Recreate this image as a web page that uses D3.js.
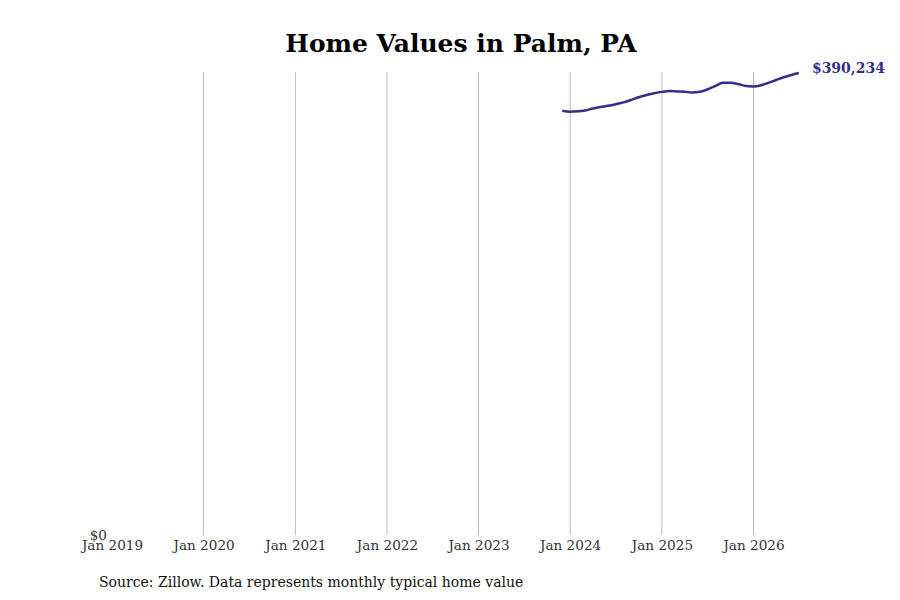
<!DOCTYPE html>
<html>
<head>
<meta charset="utf-8">
<script src="https://cdn.jsdelivr.net/npm/d3@7"></script>
<style>
  body { margin: 0; background: #fff; }
  svg { display: block; font-family: "DejaVu Serif", serif; }
</style>
</head>
<body>
<script>
// monthly typical home value, Dec 2023 .. Jul 2026
var months = [
  "2023-12", "2024-01", "2024-02", "2024-03", "2024-04", "2024-05", "2024-06",
  "2024-07", "2024-08", "2024-09", "2024-10", "2024-11", "2024-12",
  "2025-01", "2025-02", "2025-03", "2025-04", "2025-05", "2025-06",
  "2025-07", "2025-08", "2025-09", "2025-10", "2025-11", "2025-12",
  "2026-01", "2026-02", "2026-03", "2026-04", "2026-05", "2026-06", "2026-07"
];
var values = [
  358400, 357600, 357900, 358600, 360300, 361500, 362600,
  363900, 365400, 367500, 369800, 371600, 373100,
  374300, 375000, 374700, 374300, 373800, 374400,
  376300, 379200, 381900, 382000, 380900, 379300,
  378900, 380000, 381900, 384300, 386600, 388600, 390234
];
var tickYears = [2019, 2020, 2021, 2022, 2023, 2024, 2025, 2026];

var width = 900, height = 600;
var margin = { top: 73, right: 147, bottom: 65, left: 112 };

var parse = d3.timeParse("%Y-%m");
var data = months.map(function (m, i) {
  return { date: parse(m), value: values[i] };
});

var svg = d3.select("body").append("svg")
  .attr("width", width)
  .attr("height", height);

var x = d3.scaleTime()
  .domain([new Date(2019, 0, 1), new Date(2026, 6, 1)])
  .range([margin.left, 798.9]);

var y = d3.scaleLinear()
  .domain([0, d3.max(values)])
  .range([height - margin.bottom, margin.top]);

// title
svg.append("text")
  .attr("x", 461)
  .attr("y", 52)
  .attr("text-anchor", "middle")
  .style("font-size", "25px")
  .style("font-weight", "bold")
  .text("Home Values in Palm, PA");

// vertical grid lines, one per January (none at the first one)
svg.append("g")
  .selectAll("line")
  .data(tickYears.slice(1))
  .enter().append("line")
  .attr("x1", function (d) { return x(new Date(d, 0, 1)); })
  .attr("x2", function (d) { return x(new Date(d, 0, 1)); })
  .attr("y1", 72)
  .attr("y2", height - margin.bottom)
  .attr("stroke", "#bbb")
  .attr("stroke-width", 1);

// x axis
var xAxis = d3.axisBottom(x)
  .tickValues(tickYears.map(function (d) { return new Date(d, 0, 1); }))
  .tickFormat(d3.timeFormat("Jan %Y"))
  .tickSize(0)
  .tickPadding(5);

var gx = svg.append("g")
  .attr("transform", "translate(0," + (height - margin.bottom) + ")")
  .call(xAxis);
gx.select(".domain").remove();
gx.selectAll("text")
  .style("font-family", "DejaVu Serif, serif")
  .style("font-size", "13.6px")
  .attr("fill", "#333");

// y axis, only $0
var yAxis = d3.axisLeft(y)
  .tickValues([0])
  .tickFormat(function (d) { return "$" + d3.format(",")(d); })
  .tickSize(0)
  .tickPadding(5);

var gy = svg.append("g")
  .attr("transform", "translate(" + margin.left + ",0)")
  .call(yAxis);
gy.select(".domain").remove();
gy.selectAll("text")
  .style("font-family", "DejaVu Serif, serif")
  .style("font-size", "13.6px")
  .attr("fill", "#333");

// value line
var line = d3.line()
  .x(function (d) { return x(d.date); })
  .y(function (d) { return y(d.value); })
  .curve(d3.curveMonotoneX);

svg.append("path")
  .datum(data)
  .attr("fill", "none")
  .attr("stroke", "#332d8c")
  .attr("stroke-width", 2.5)
  .attr("d", line);

// end label
var last = data[data.length - 1];
svg.append("text")
  .attr("x", x(last.date) + 13)
  .attr("y", y(last.value) - 5)
  .attr("dy", "0.35em")
  .attr("fill", "#332d8c")
  .style("font-size", "14px")
  .style("font-weight", "bold")
  .text("$" + d3.format(",")(last.value));

// source note
svg.append("text")
  .attr("x", 99)
  .attr("y", 587)
  .attr("fill", "#111")
  .style("font-size", "14px")
  .text("Source: Zillow. Data represents monthly typical home value");
</script>
</body>
</html>
